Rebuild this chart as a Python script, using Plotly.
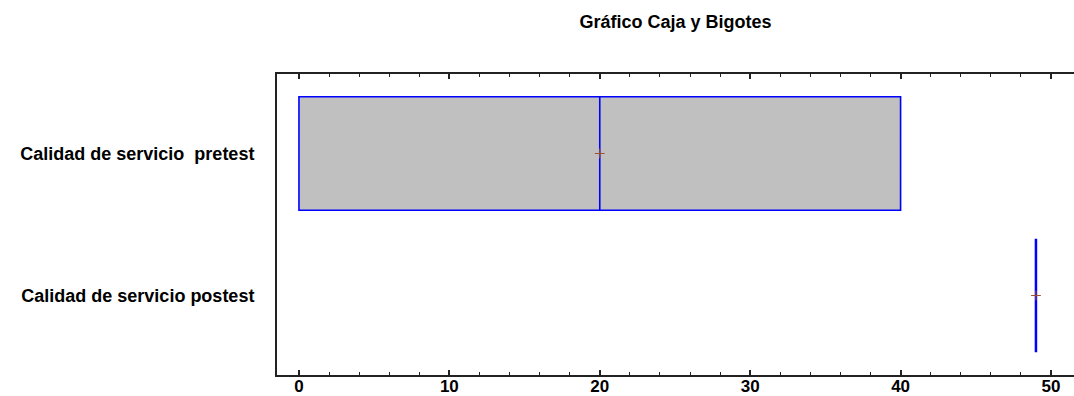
import plotly.graph_objects as go

# Summary statistics for each variable
categories = ["Calidad de servicio\u00a0\u00a0pretest", "Calidad de servicio postest"]
minimum = [0, 49]
q1 = [0, 49]
median = [20, 49]
q3 = [40, 49]
maximum = [40, 49]
mean = [20, 49]
x_ticks = [0, 10, 20, 30, 40, 50]

FONT = "Liberation Sans, Arial, sans-serif"
BLUE = "#0000ff"
AXIS = "#222222"

fig = go.Figure()

line_widths = [1.6, 2.5]
for i, cat in enumerate(categories):
    fig.add_trace(go.Box(
        orientation="h",
        y=[cat],
        q1=[q1[i]],
        median=[median[i]],
        q3=[q3[i]],
        lowerfence=[minimum[i]],
        upperfence=[maximum[i]],
        width=0.8,
        whiskerwidth=0.26,
        fillcolor="#c0c0c0",
        line=dict(color=BLUE, width=line_widths[i]),
        boxpoints=False,
        showlegend=False,
    ))

# Mean markers
fig.add_trace(go.Scatter(
    x=mean,
    y=categories,
    mode="markers",
    marker=dict(symbol="cross-thin-open", size=7, color="#a0522d",
                line=dict(color="#a0522d", width=1)),
    showlegend=False,
    cliponaxis=False,
))

fig.update_layout(
    width=1074,
    height=396,
    margin=dict(l=277, r=0, t=74, b=21, autoexpand=False),
    paper_bgcolor="white",
    plot_bgcolor="white",
    boxmode="overlay",
    title=dict(
        text="Gráfico Caja y Bigotes",
        x=0.5, xref="paper", xanchor="center",
        y=0.944, yref="container", yanchor="middle",
        font=dict(family=FONT, size=18, color="black", weight="bold"),
        automargin=False,
    ),
    xaxis=dict(
        range=[-1.46, 51.53],
        tickvals=x_ticks,
        ticktext=[str(v) for v in x_ticks],
        ticks="inside",
        ticklen=5,
        tickwidth=1.5,
        tickcolor=AXIS,
        minor=dict(dtick=2, ticks="inside", ticklen=3, tickwidth=1.2,
                   tickcolor=AXIS, showgrid=False),
        showline=True,
        linecolor=AXIS,
        linewidth=2,
        mirror="ticks",
        showgrid=False,
        zeroline=False,
        automargin=False,
        tickfont=dict(family=FONT, size=17, color="black", weight="bold"),
        ticklabelstandoff=-5,
    ),
    yaxis=dict(
        type="category",
        categoryorder="array",
        categoryarray=categories,
        range=[1.56, -0.56],
        showline=True,
        linecolor=AXIS,
        linewidth=2,
        ticks="",
        showgrid=False,
        zeroline=False,
        automargin=False,
        tickfont=dict(family=FONT, size=18, color="black", weight="bold"),
        ticklabelstandoff=17,
    ),
)

fig.write_html("out.html")
